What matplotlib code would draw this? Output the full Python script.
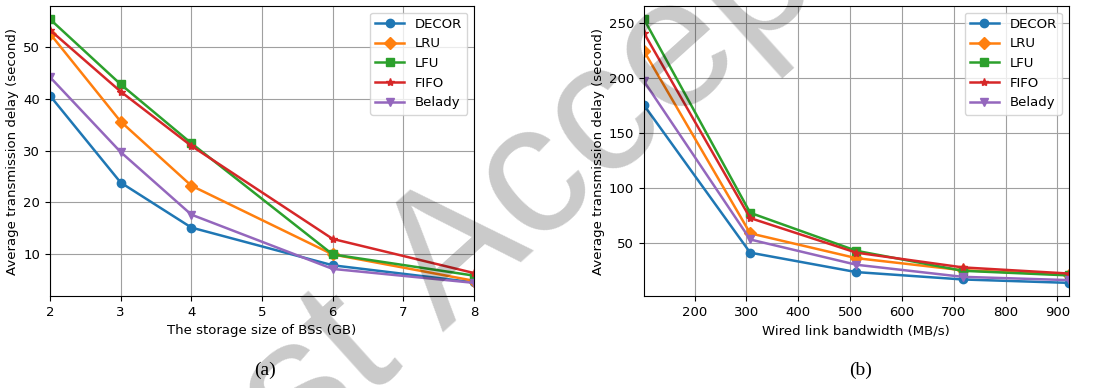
import matplotlib
matplotlib.use("Agg")
import matplotlib.pyplot as plt

# (a) storage size of BSs
size_gb = [2, 3, 4, 6, 8]
delay_a = {
    "DECOR": [40.6, 23.8, 15.1, 7.8, 4.5],
    "LRU": [52.6, 35.6, 23.2, 9.9, 4.8],
    "LFU": [55.4, 42.8, 31.4, 9.9, 5.8],
    "FIFO": [53.3, 41.4, 30.9, 12.9, 6.3],
    "Belady": [44.2, 29.7, 17.6, 7.1, 4.4],
}

# (b) wired link bandwidth
bandwidth = [102.4, 307.2, 512.0, 716.8, 921.6]
delay_b = {
    "DECOR": [175.3, 41.0, 23.3, 16.6, 13.5],
    "LRU": [224.5, 58.6, 36.0, 25.0, 21.0],
    "LFU": [253.6, 77.3, 42.7, 24.5, 20.3],
    "FIFO": [241.0, 72.5, 41.0, 27.6, 22.0],
    "Belady": [197.0, 53.0, 30.0, 19.0, 16.0],
}

markers = {"DECOR": "o", "LRU": "D", "LFU": "s", "FIFO": "*", "Belady": "v"}

plt.rcParams["font.size"] = 9.5

fig = plt.figure(figsize=(10.99, 3.88), dpi=100)
ax1 = fig.add_axes([0.0455, 0.237, 0.3858, 0.7475])
ax2 = fig.add_axes([0.586, 0.237, 0.3864, 0.7475])

for name, vals in delay_a.items():
    ax1.plot(size_gb, vals, marker=markers[name], lw=1.8, label=name)
ax1.set_xlim(2, 8)
ax1.set_xlabel("The storage size of BSs (GB)")
ax1.set_ylabel("Average transmission delay (second)", labelpad=3)
ax1.grid(True, color="#a0a0a0")
ax1.legend(loc="upper right", handlelength=2.2)

for name, vals in delay_b.items():
    ax2.plot(bandwidth, vals, marker=markers[name], lw=1.8, label=name)
ax2.set_xlim(bandwidth[0], bandwidth[-1])
ax2.set_xlabel("Wired link bandwidth (MB/s)")
ax2.set_ylabel("Average transmission delay (second)", labelpad=3)
ax2.grid(True, color="#a0a0a0")
ax2.legend(loc="upper right", handlelength=2.2)

fig.text(0.241, 0.046, "(a)", ha="center", va="center", fontsize=14, family="Liberation Serif")
fig.text(0.783, 0.046, "(b)", ha="center", va="center", fontsize=14, family="Liberation Serif")

# watermark
wx, wy = 443 / 1099, 1 - 332 / 388
fig.text(wx, wy, "Accepted", rotation=42, rotation_mode="anchor", family="Liberation Sans",
         ha="left", va="baseline", fontsize=133, color="black", alpha=0.21, zorder=10)
fig.text(wx, wy, "Just ", rotation=42, rotation_mode="anchor", family="Liberation Sans",
         ha="right", va="baseline", fontsize=133, color="black", alpha=0.21, zorder=10)

fig.savefig("out.png", dpi=100)
